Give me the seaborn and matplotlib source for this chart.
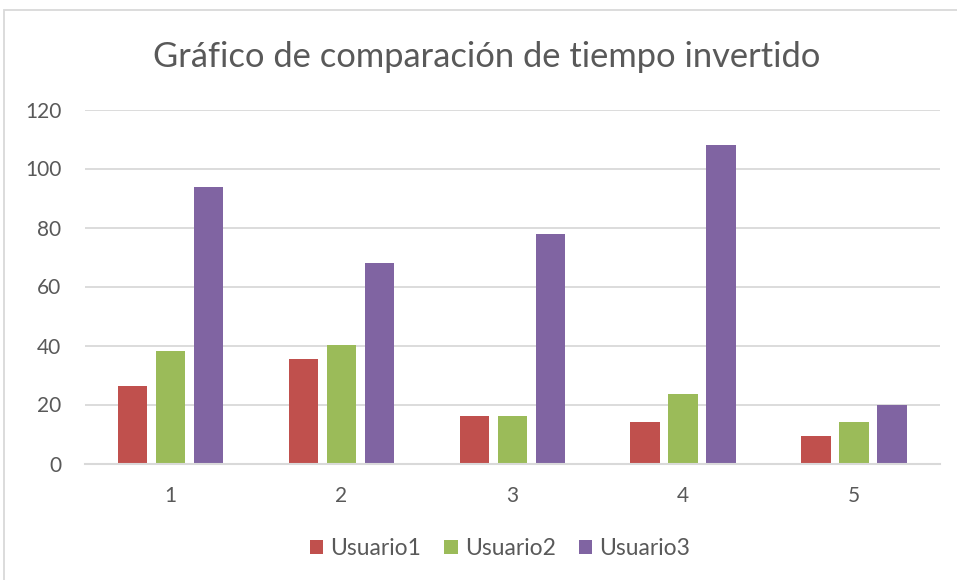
import matplotlib
matplotlib.use("Agg")
import matplotlib.pyplot as plt
import seaborn as sns
import pandas as pd
from matplotlib.patches import Rectangle

# Minutes invested per task, per user
tareas = ["1", "2", "3", "4", "5"]
usuario1 = [26.2, 35.3, 16.1, 14.2, 9.3]
usuario2 = [38.0, 40.3, 16.1, 23.4, 14.0]
usuario3 = [93.8, 67.8, 77.8, 108.0, 19.9]
series = ["Usuario1", "Usuario2", "Usuario3"]
colores = ["#C0504D", "#9BBB59", "#8064A2"]

df = pd.DataFrame({
    "tarea": tareas * 3,
    "usuario": [s for s in series for _ in tareas],
    "tiempo": usuario1 + usuario2 + usuario3,
})

sns.set_theme(style="white")
plt.rcParams["font.family"] = ["Lato", "DejaVu Sans"]

texto = "#595959"
rejilla = "#D9D9D9"

fig = plt.figure(figsize=(9.57, 5.8), dpi=100)
ax = fig.add_axes([85 / 957, 1 - 463.5 / 580, (939.5 - 85) / 957, (463.5 - 109.5) / 580])

sns.barplot(data=df, x="tarea", y="tiempo", hue="usuario", order=tareas,
            hue_order=series, palette=colores, width=0.667, gap=0.225,
            saturation=1, linewidth=0, errorbar=None, ax=ax)

ax.set_ylim(0, 120)
ax.set_xlim(-0.5, 4.5)
ax.set_yticks(range(0, 121, 20))
ax.grid(axis="y", color=rejilla, linewidth=1.3)
ax.set_axisbelow(True)
for lado in ["top", "right", "left"]:
    ax.spines[lado].set_visible(False)
ax.spines["bottom"].set_color(rejilla)
ax.spines["bottom"].set_linewidth(1.5)
ax.tick_params(axis="both", length=0, labelsize=15, colors=texto)
ax.tick_params(axis="y", pad=17)
ax.tick_params(axis="x", pad=16)
ax.set_xlabel("")
ax.set_ylabel("")

ax.legend(loc="center", bbox_to_anchor=(0.4855, -0.24), ncol=3, frameon=False,
          fontsize=16.5, labelcolor=texto, handlelength=0.6, handleheight=0.6,
          handletextpad=0.3, columnspacing=1.0)

fig.text(487 / 957, 1 - 57 / 580, "Gráfico de comparación de tiempo invertido",
         ha="center", va="center", fontsize=24.8, color=texto)

# Chart area border
fig.patches.append(Rectangle((4 / 957, -0.05), 1.1, 1 - 10 / 580 + 0.05,
                             transform=fig.transFigure, fill=False,
                             edgecolor=rejilla, linewidth=1.3))

fig.savefig("out.png", dpi=100)
